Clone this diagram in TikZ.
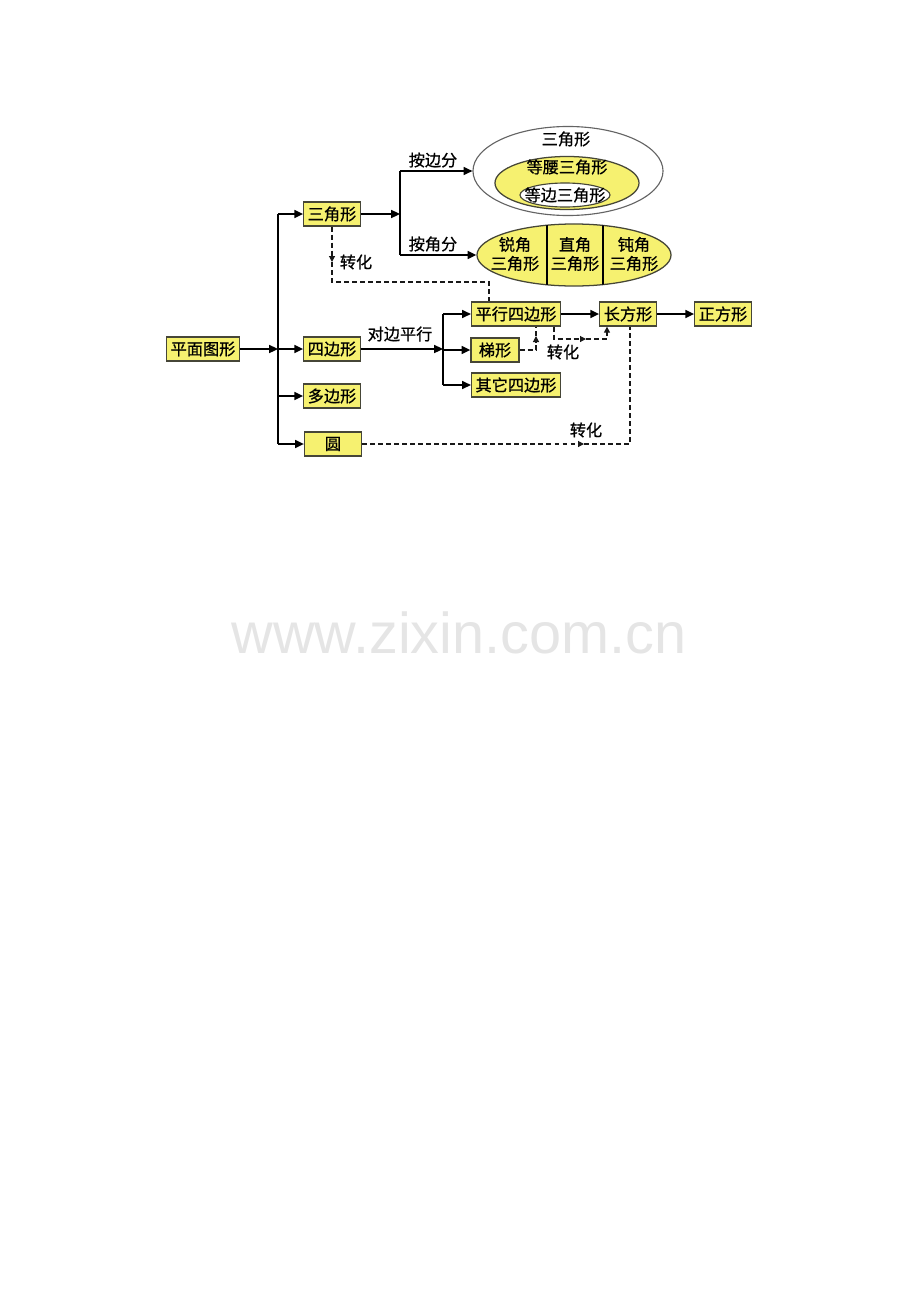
\documentclass[tikz,border=0pt]{standalone}
\usepackage{fontspec}
\setmainfont{Noto Sans CJK SC}[FakeBold=0.8]
\newfontfamily\wmfont{Liberation Sans}
\usetikzlibrary{arrows.meta,shapes.geometric}
\definecolor{boxyellow}{RGB}{246,241,112}
\definecolor{boxedge}{RGB}{70,70,55}
\definecolor{ringgray}{RGB}{100,100,100}
\tikzset{
  box/.style={draw=boxedge, line width=0.9pt, fill=boxyellow, minimum height=0.6cm, inner xsep=0.1cm, inner ysep=0pt},
  lbl/.style={inner sep=1pt},
  link/.style={line width=1.1pt},
  arr/.style={link, -{Triangle[length=2.2mm,width=2mm]}},
  dsh/.style={line width=0.8pt, draw=black!90, dash pattern=on 3.5pt off 2.2pt},
  midtip/.style={-{Triangle[length=1.5mm,width=1.5mm]}},
  oval/.style={ellipse, inner sep=0pt},
}
\begin{document}
\begin{tikzpicture}[x=0.025cm, y=0.025cm, every node/.style={font=\fontsize{11.5pt}{13.5pt}\selectfont}]
		\useasboundingbox (0,0) rectangle (920,-1302);
		% boxes
		\node[box] (plane) at (203,-349) {平面图形};
		\node[box] (tri) at (332,-214) {三角形};
		\node[box] (quad) at (332,-349) {四边形};
		\node[box] (poly) at (332,-396) {多边形};
		\node[box, minimum width=1.425cm] (circ) at (333,-444) {圆};
		\node[box] (para) at (516,-314) {平行四边形};
		\node[box, minimum width=1.2cm] (trap) at (495,-350) {梯形};
		\node[box] (other) at (516,-385) {其它四边形};
		\node[box] (rect) at (628,-314) {长方形};
		\node[box] (sq) at (723,-314) {正方形};
		
		% trunk from 平面图形
		\coordinate (trunk) at (278,-349);
		\draw[arr] (plane) -- (trunk);
		\draw[link] (trunk |- tri) -- (trunk |- circ);
		\foreach \n in {tri,quad,poly,circ}
			\draw[arr] (trunk |- \n) -- (\n);
		
		% ellipses for triangles
		\node[oval, draw=ringgray, line width=0.8pt, fill=white, minimum width=4.75cm, minimum height=2.225cm] (side) at (568,-171) {};
		\node[oval, draw=boxedge, line width=0.9pt, fill=boxyellow, minimum width=3.6cm, minimum height=1.325cm] (iso) at (567,-183) {};
		\node[oval, draw=boxedge, line width=0.8pt, fill=white, minimum width=2.25cm, minimum height=0.6cm] (equi) at (565,-195) {};
		\node[lbl] (sidetxt) at (566,-139) {三角形};
		\node[lbl] (isotxt) at (567,-167) {等腰三角形};
		\node[lbl] (equitxt) at (565,-195) {等边三角形};
		
		\node[oval, draw=boxedge, line width=0.9pt, fill=boxyellow, minimum width=4.85cm, minimum height=1.55cm] (angle) at (574,-255) {};
		\begin{scope}
			\clip (574,-255) ellipse [x radius=97, y radius=31];
			\draw[line width=1.1pt] (547,-200) -- (547,-310);
			\draw[line width=1.1pt] (603,-200) -- (603,-310);
		\end{scope}
		\node[lbl, align=center] (acute) at (515,-254) {锐角\\三角形};
		\node[lbl, align=center] (right) at (575,-254) {直角\\三角形};
		\node[lbl, align=center] (obtuse) at (634,-254) {钝角\\三角形};
		
		% 三角形 split
		\coordinate (tsplit) at (400,-214);
		\draw[arr] (tri) -- (tsplit);
		\draw[link] (400,-171) -- (400,-255);
		\draw[arr] (400,-171) -- (side.west);
		\draw[arr] (400,-255) -- (angle.west);
		\node[lbl] (byside) at (433,-160) {按边分};
		\node[lbl] (byangle) at (433,-244) {按角分};
		
		% 四边形 split
		\coordinate (qsplit) at (443,-349);
		\draw[arr] (quad) -- (qsplit);
		\draw[link] (qsplit |- para) -- (qsplit |- other);
		\foreach \n in {para,trap,other}
			\draw[arr] (qsplit |- \n) -- (\n);
		\node[lbl] (oppo) at (400,-334) {对边平行};
		\draw[arr] (para) -- (rect);
		\draw[arr] (rect) -- (sq);
		
		% 转化 links
		\coordinate (k1) at (332,-262);
		\draw[dsh, midtip] (tri.south) -- (k1);
		\draw[dsh] (k1) -- (332,-282) -| ([xshift=-0.675cm]para.north);
		\node[lbl] (conv1) at (356,-262) {转化};
		
		\coordinate (k2) at (536,-336);
		\draw[dsh, midtip] (trap.east) -| (k2);
		\draw[dsh] (k2) -- (k2 |- para.south);
		
		\coordinate (k3) at (586,-339);
		\draw[dsh, midtip] ([xshift=0.95cm]para.south) |- (k3);
		\draw[dsh, midtip] (k3) -| ([xshift=-0.525cm]rect.south);
		\node[lbl] (conv2) at (563,-352) {转化};
		
		\coordinate (k4) at (584,-444);
		\draw[dsh, midtip] (circ.east) -- (k4);
		\draw[dsh] (k4) -| ([xshift=0.05cm]rect.south);
		\node[lbl] (conv3) at (586,-430) {转化};
		
		% watermark
		\node[font=\wmfont\fontsize{41pt}{48pt}\selectfont, text=black!10] (mark) at (459,-633) {www.zixin.com.cn};
	\end{tikzpicture}
\end{document}
